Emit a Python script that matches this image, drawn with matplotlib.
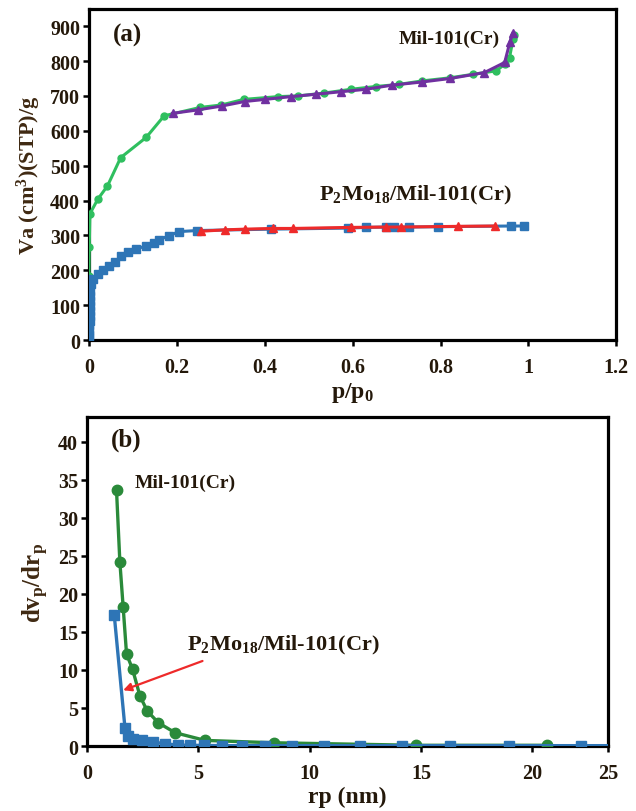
import matplotlib
matplotlib.use("Agg")
import matplotlib.pyplot as plt

plt.rcParams['font.family'] = ['Liberation Serif', 'DejaVu Serif']
plt.rcParams['font.weight'] = 'bold'
plt.rcParams['axes.labelweight'] = 'bold'
plt.rcParams['mathtext.fontset'] = 'custom'
plt.rcParams['mathtext.rm'] = 'Liberation Serif:bold'
plt.rcParams['mathtext.it'] = 'Liberation Serif:bold'
plt.rcParams['mathtext.bf'] = 'Liberation Serif:bold'

TXT = '#24180a'
LAB = '#3f2912'

# (a) N2 isotherms, p/p0 vs Va
mil_ads_x = [0.0, 0.0005, 0.002, 0.02, 0.042, 0.072, 0.13, 0.171, 0.253, 0.301, 0.352, 0.43,
             0.476, 0.534, 0.596, 0.652, 0.705, 0.758, 0.822, 0.874, 0.927, 0.946, 0.957, 0.965, 0.968]
mil_ads_y = [185, 268, 362, 404, 442, 523, 581, 643, 667, 674, 690, 698,
             700, 708, 719, 727, 733, 743, 752, 762, 772, 791, 810, 862, 876]
mil_des_x = [0.19, 0.248, 0.302, 0.354, 0.40, 0.46, 0.517, 0.573, 0.63, 0.69, 0.758, 0.822,
             0.90, 0.946, 0.958, 0.965]
mil_des_y = [650, 660, 671, 684, 690, 698, 705, 712, 719, 731, 740, 750,
             767, 796, 855, 881]
pmo_ads_x = [0.0, 0.0003, 0.0006, 0.0009, 0.0012, 0.0015, 0.0018, 0.0021, 0.0024, 0.0027, 0.003,
             0.005, 0.01, 0.02, 0.032, 0.045, 0.06, 0.073, 0.088, 0.107, 0.13, 0.148, 0.16, 0.182,
             0.205, 0.246, 0.415, 0.589, 0.63, 0.675, 0.694, 0.728, 0.795, 0.961, 0.991]
pmo_ads_y = [5, 15, 28, 42, 56, 70, 84, 98, 112, 126, 140,
             160, 175, 190, 200, 212, 225, 240, 252, 261, 270, 279, 288, 299,
             311, 314, 318, 321, 323, 324, 324, 324, 325, 327, 327]
pmo_des_x = [0.254, 0.31, 0.355, 0.419, 0.464, 0.596, 0.675, 0.709, 0.84, 0.923]
pmo_des_y = [312, 316, 318, 320, 320, 323, 324, 324, 326, 327]

# (b) pore size distribution, rp (nm) vs dvp/drp
mil_rp = [1.32, 1.47, 1.62, 1.77, 2.04, 2.37, 2.70, 3.2, 3.95, 5.3, 8.38, 14.76, 20.65]
mil_dv = [33.6, 24.2, 18.2, 12.1, 10.1, 6.6, 4.6, 3.06, 1.75, 0.74, 0.43, 0.1, 0.1]
pmo_rp = [1.22, 1.70, 1.82, 2.07, 2.45, 2.97, 3.5, 4.1, 4.63, 5.27, 6.05, 6.96, 8.0, 9.2,
          10.63, 12.25, 14.13, 16.3, 18.96, 22.2, 24.5]
pmo_dv = [17.15, 2.36, 1.3, 0.96, 0.74, 0.52, 0.3, 0.12, 0.1, 0.08, 0.05, 0.05, 0.05, 0.05,
          0.05, 0.05, 0.05, 0.05, 0.05, 0.05, 0.05]

a_yticks = [0, 100, 200, 300, 400, 500, 600, 700, 800, 900]
a_xticks = [0, 0.2, 0.4, 0.6, 0.8, 1, 1.2]
a_xlabels = ['0', '0.2', '0.4', '0.6', '0.8', '1', '1.2']
b_yticks = [0, 5, 10, 15, 20, 25, 30, 35, 40]
b_xlabels = ['0', '5', '10', '15', '20', '25']

fig = plt.figure(figsize=(6.36, 8.12), dpi=100)
ax1 = fig.add_axes([0.140, 0.580, 0.829, 0.408])
ax2 = fig.add_axes([0.137, 0.080, 0.819, 0.405])


def style(ax):
    for s in ax.spines.values():
        s.set_linewidth(2.3)
        s.set_color('black')
    ax.tick_params(direction='out', length=4.5, width=1.8, colors='black',
                   labelcolor=TXT, labelsize=14.5, pad=2)


green_a = '#2fbf5f'
blue = '#2e75b6'
purple = '#7030a0'
red = '#ee2a2a'
green_b = '#2a8a3a'

ax1.plot(mil_ads_x, mil_ads_y, '-o', color=green_a, lw=2.2, ms=5, zorder=3)
ax1.plot(mil_des_x, mil_des_y, '-^', color=purple, lw=2.2, ms=5.5, zorder=4)
ax1.plot(pmo_ads_x, pmo_ads_y, '-s', color=blue, lw=2.2, ms=6, zorder=3)
ax1.plot(pmo_des_x, pmo_des_y, '-^', color=red, lw=2.2, ms=5.5, zorder=4)
ax1.set_xlim(0, 1.2)
ax1.set_ylim(0, 950)
ax1.set_yticks(a_yticks)
ax1.set_xticks(a_xticks)
ax1.set_xticklabels(a_xlabels)
style(ax1)
ax1.tick_params(axis='x', pad=8)
ax1.set_xlabel('p/p$_0$', fontsize=17, color=TXT, labelpad=2)
ax1.set_ylabel('Va (cm$^3$)(STP)/g', fontsize=16, color=LAB, labelpad=5)
ax1.text(0.055, 875, '(a)', fontsize=18, color=TXT, va='center')
ax1.text(0.935, 865, 'Mil-101(Cr)', fontsize=14, color=TXT, ha='right', va='center')
ax1.text(0.742, 418, 'P$_2$Mo$_{18}$/Mil-101(Cr)', fontsize=16, color=TXT, ha='center', va='center')

ax2.plot(mil_rp, mil_dv, '-o', color=green_b, lw=2.4, ms=7.5, zorder=3)
ax2.plot(pmo_rp, pmo_dv, '-s', color=blue, lw=2.4, ms=6.5, zorder=4)
ax2.set_xlim(0, 23.4)
ax2.set_ylim(0, 43.2)
ax2.set_yticks(b_yticks)
ax2.set_xticks([0, 5, 10, 15, 20, 23.4])
ax2.set_xticklabels(b_xlabels)
style(ax2)
ax2.tick_params(axis='x', pad=8)
ax2.set_xlabel('rp (nm)', fontsize=17, color=TXT, labelpad=2)
ax2.set_ylabel('dv$_p$/dr$_p$', fontsize=18, color=LAB, labelpad=5)
ax2.text(1.05, 40.3, '(b)', fontsize=18, color=TXT, va='center')
ax2.text(2.15, 34.7, 'Mil-101(Cr)', fontsize=14, color=TXT, va='center')
ax2.text(4.5, 13.4, 'P$_2$Mo$_{18}$/Mil-101(Cr)', fontsize=16, color=TXT, va='center')
ax2.annotate('', xy=(1.5, 7.2), xytext=(5.3, 11.3),
             arrowprops=dict(arrowstyle='-|>', color=red, lw=1.6, mutation_scale=12), zorder=5)

fig.savefig('out.png', dpi=100)
